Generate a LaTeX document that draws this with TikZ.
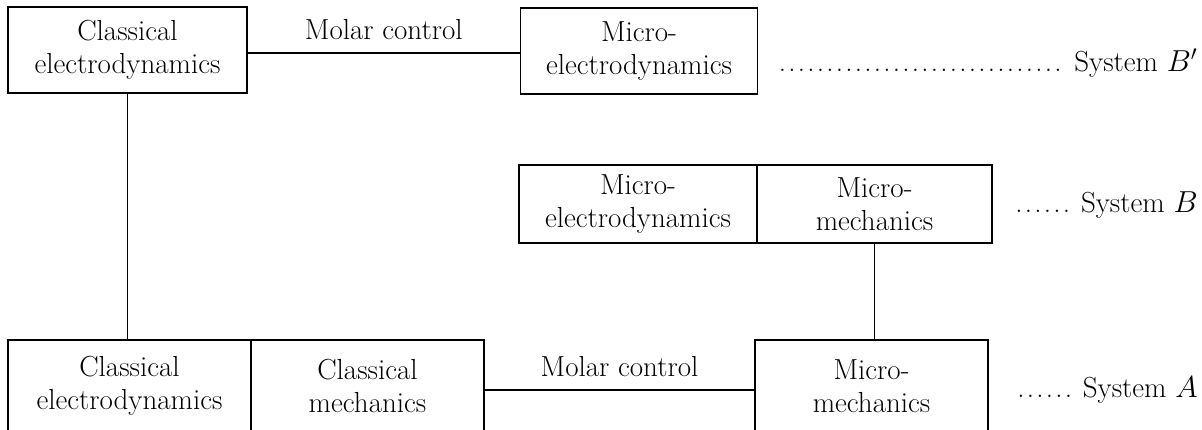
\documentclass[tikz,border=0pt]{standalone}
\newcommand\leaderdots[1]{\hbox to #1{\leaders\hbox to 0.19cm{\hss.\hss}\hfill}}
\begin{document}
\begin{tikzpicture}[x=0.02cm,y=-0.02cm,
  every node/.style={font=\fontsize{16.5}{19}\selectfont, inner sep=0pt},
  box/.style={draw, line width=0.9pt, align=center, minimum height=#1},
  box/.default={86*0.02cm},
  conn/.style={line width=0.9pt},
  lbl/.style={anchor=east}]
\useasboundingbox (0,0) rectangle (1202,429);
% top row
\node[box, minimum width=239*0.02cm] (CE) at (127.5,50) {Classical\\electrodynamics};
\node[box, minimum width=237*0.02cm] (ME) at (639,51) {Micro-\\electrodynamics};
\draw[conn] (CE.east |- 0,53) -- node[above=7pt] (mc1) {Molar control} (ME.west |- 0,53);
\node[lbl] (sysBp) at (1198,63) {\leaderdots{5.76cm}\ System $B'$};
% middle row
\node[box=78*0.02cm, minimum width=238*0.02cm] (BE) at (638,204) {Micro-\\electrodynamics};
\node[box=78*0.02cm, minimum width=235*0.02cm] (BM) at (874.5,204) {Micro-\\mechanics};
\node[lbl] (sysB) at (1198,205) {\leaderdots{1.16cm}\ System $B$};
% bottom row
\node[box=92*0.02cm, minimum width=243*0.02cm] (AE) at (129.5,386) {Classical\\electrodynamics};
\node[box=92*0.02cm, minimum width=233*0.02cm] (AM) at (367.5,386) {Classical\\mechanics};
\node[box=92*0.02cm, minimum width=233*0.02cm] (Am) at (871.5,386) {Micro-\\mechanics};
\draw[conn] (AM.east |- 0,390) -- node[above=7pt] (mc2) {Molar control} (Am.west |- 0,390);
\node[lbl] (sysA) at (1198,390) {\leaderdots{1.16cm}\ System $A$};
% vertical connectors
\draw[conn] (CE.south) -- (CE.south |- AE.north);
\draw[conn] (BM.south) -- (BM.south |- Am.north);
\end{tikzpicture}
\end{document}
